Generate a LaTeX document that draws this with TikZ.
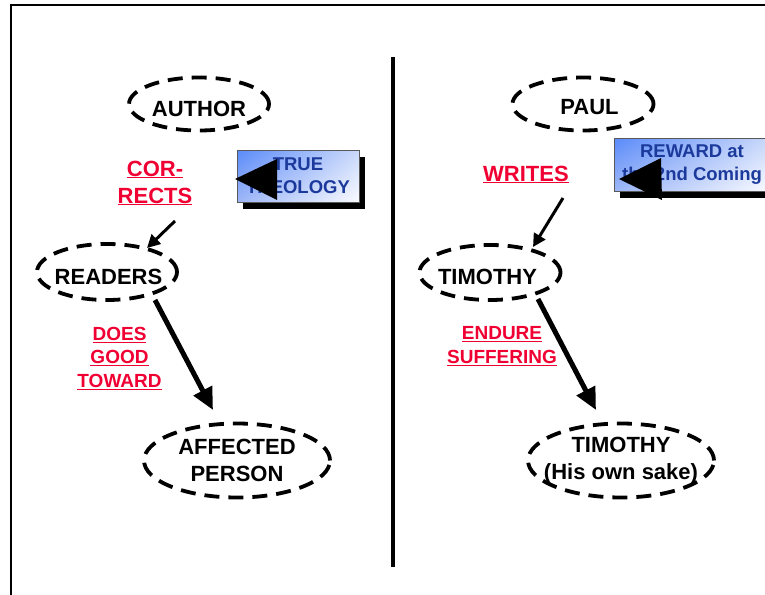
\documentclass[tikz,border=0pt]{standalone}
\usepackage{fontspec}
\setmainfont{Liberation Sans}
\usetikzlibrary{arrows.meta,shapes.geometric,shadows,shadings}

\definecolor{linkred}{HTML}{F00032}
\definecolor{boxtext}{HTML}{1C3A9C}
\definecolor{shadeA}{HTML}{5A8BFA}
\definecolor{shadeB}{HTML}{C9D8FA}
\definecolor{shadeC}{HTML}{9DB6F6}
\definecolor{shadeD}{HTML}{FAFBFF}

% a label whose reported width is fixed, so the ellipse keeps its own size
\newcommand\slim[2][0pt]{\makebox[60pt][c]{\hspace*{#1}#2}}

\begin{document}
\begin{tikzpicture}[x=1pt,y=-1pt,
  every node/.style={font=\bfseries},
  person/.style={ellipse, draw, line width=3.8pt,
    dash pattern=on 15pt off 9pt, inner sep=0pt, align=center,
    font=\bfseries\fontsize{22}{27}\selectfont},
  verb/.style={text=linkred, align=center, inner sep=0pt, anchor=north},
  bigverb/.style={verb, font=\bfseries\fontsize{22}{27}\selectfont},
  smallverb/.style={verb, font=\bfseries\fontsize{19}{23.5}\selectfont},
  notebox/.style={draw=black!65, line width=0.8pt, rectangle,
    upper left=shadeA, upper right=shadeB, lower left=shadeC, lower right=shadeD,
    text=boxtext, align=center, inner sep=0pt,
    font=\bfseries\fontsize{18.5}{23}\selectfont,
    drop shadow={fill=black, opacity=1, shadow xshift=6pt, shadow yshift=-7pt}},
  thinarrow/.style={line width=3pt, -{Triangle[length=13pt,width=13pt]}},
  thickarrow/.style={line width=5pt, -{Triangle[length=22pt,width=20pt]}},
  blockhead/.style={fill=black}
]
\useasboundingbox (0,0) rectangle (765,594);

% page frame and centre divider
\draw[line width=2pt] (11,610) -- (11,5) -- (780,5);
\draw[line width=4.5pt] (393,57) -- (393,567);

% ---------------- left column ----------------
\node[person, minimum width=140pt, minimum height=53pt] (author) at (199,104)
  {\raisebox{-4.5pt}[15pt][0pt]{\slim{AUTHOR}}};
\node[bigverb] (corrects) at (155,160.5) {\underline{COR-}\\\underline{RECTS}};
\node[notebox, minimum width=122pt, minimum height=52pt] (theology) at (298,176)
  {\raisebox{-2pt}{TRUE}\\\raisebox{-2pt}{THEOLOGY}};
\fill[blockhead] (235,179) -- (277,159) -- (277,200) -- cycle;
\node[person, minimum width=140pt, minimum height=56pt] (readers) at (107,272)
  {\raisebox{-5pt}[15pt][0pt]{\slim[3pt]{READERS}}};
\node[smallverb] (doesgood) at (119.5,327) {\underline{DOES}\\\underline{GOOD}\\\underline{TOWARD}};
\node[person, minimum width=186pt, minimum height=74pt] (affected) at (237,460.5)
  {\slim{AFFECTED}\\\slim{PERSON}};

\coordinate (crstart) at (175,221);
\coordinate (crend) at (147,248);
\draw[thinarrow] (crstart) -- (crend);
\coordinate (rastart) at (155,300);
\coordinate (raend) at (213,410);
\draw[thickarrow] (rastart) -- (raend);

% ---------------- right column ----------------
\node[person, minimum width=141pt, minimum height=53pt] (paul) at (583,104)
  {\raisebox{-2.5pt}[15pt][0pt]{\slim[13pt]{PAUL}}};
\node[bigverb] (writes) at (526,165.5) {\underline{WRITES}};
\node[notebox, minimum width=156pt, minimum height=53pt] (reward) at (692,164.5)
  {\raisebox{-1pt}{REWARD at}\\\raisebox{-1pt}{the 2nd Coming}};
\fill[blockhead] (619,179) -- (661,158) -- (662,200) -- cycle;
\node[person, minimum width=141pt, minimum height=55pt] (timothy) at (490,272.5)
  {\raisebox{-4pt}[15pt][0pt]{\slim[-5pt]{TIMOTHY}}};
\node[smallverb] (endure) at (502,326.5) {\underline{ENDURE}\\\underline{SUFFERING}};
\node[person, minimum width=186pt, minimum height=74pt] (timself) at (621,460.5)
  {\slim{TIMOTHY}\\\slim{(His own sake)}};

\coordinate (wtstart) at (563,198);
\coordinate (wtend) at (533,247);
\draw[thinarrow] (wtstart) -- (wtend);
\coordinate (ttstart) at (538,299);
\coordinate (ttend) at (596,410);
\draw[thickarrow] (ttstart) -- (ttend);
\end{tikzpicture}
\end{document}
